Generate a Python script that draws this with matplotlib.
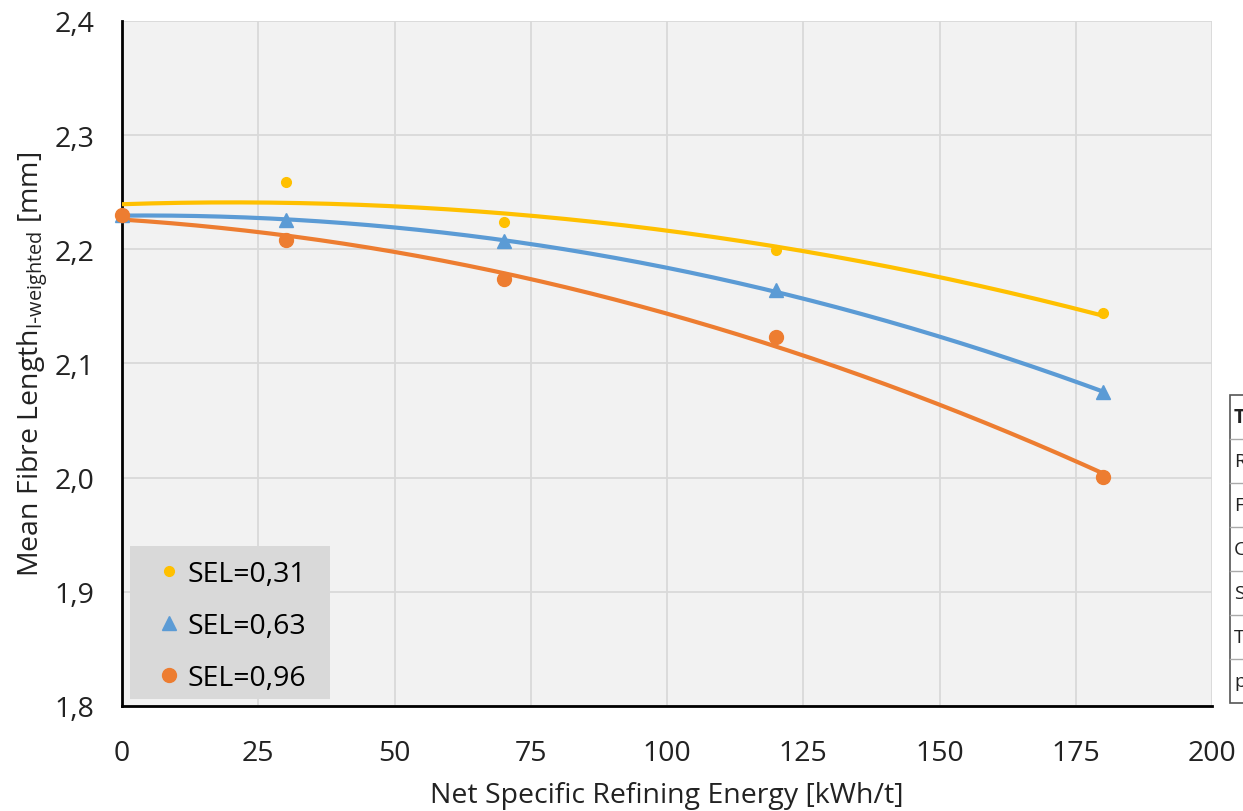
import numpy as np
import matplotlib
matplotlib.use("Agg")
import matplotlib.pyplot as plt
from matplotlib.lines import Line2D
from matplotlib.patches import Rectangle

plt.rcParams["font.family"] = ["Open Sans", "DejaVu Sans"]

# data
energy = [0, 30, 70, 120, 180]
sel_031 = [2.230, 2.259, 2.224, 2.199, 2.144]
sel_063 = [2.230, 2.226, 2.207, 2.164, 2.075]
sel_096 = [2.230, 2.208, 2.174, 2.123, 2.001]
labels = ["SEL=0,31", "SEL=0,63", "SEL=0,96"]
colors = ["#FFC000", "#5B9BD5", "#ED7D31"]
markers = ["o", "^", "o"]
sizes = [7, 10, 10]

x_ticks = [0, 25, 50, 75, 100, 125, 150, 175, 200]
y_ticks = [1.8, 1.9, 2.0, 2.1, 2.2, 2.3, 2.4]

FS = 20.5
W, H = 1243, 812
AX_L, AX_R, AX_T, AX_B = 122, 1212, 22, 707
fig = plt.figure(figsize=(W / 100, H / 100), dpi=100)
ax = fig.add_axes([AX_L / W, 1 - AX_B / H, (AX_R - AX_L) / W, (AX_B - AX_T) / H])
ax.set_facecolor("#f2f2f2")

xs = np.linspace(0, 180, 200)
handles = []
for ys, lab, c, m, s in zip([sel_031, sel_063, sel_096], labels, colors, markers, sizes):
    # 2nd order polynomial trend line as in the original
    coef = np.polyfit(energy, ys, 2)
    ax.plot(xs, np.polyval(coef, xs), color=c, linewidth=3, zorder=3)
    ax.plot(energy, ys, linestyle="none", marker=m, color=c, markersize=s,
            zorder=4, clip_on=False)
    handles.append(Line2D([], [], linestyle="none", marker=m, color=c,
                          markersize=s, label=lab))

ax.set_xlim(0, 200)
ax.set_ylim(1.8, 2.4)
ax.set_xticks(x_ticks)
ax.set_yticks(y_ticks)
ax.set_yticklabels([f"{v:.1f}".replace(".", ",") for v in y_ticks])
ax.tick_params(length=0, labelsize=FS, colors="#222222")
ax.tick_params(axis="y", pad=20)
ax.tick_params(axis="x", pad=24)
ax.grid(True, color="#d9d9d9", linewidth=1.3)
ax.set_axisbelow(True)
for side in ["top", "right"]:
    ax.spines[side].set_visible(False)
for side in ["left", "bottom"]:
    ax.spines[side].set_color("black")
    ax.spines[side].set_linewidth(2)

ax.set_xlabel("Net Specific Refining Energy [kWh/t]", fontsize=FS, color="#222222", labelpad=10)
ax.set_ylabel(r"Mean Fibre Length$_{\mathregular{l\text{-}weighted}}$ [mm]", fontsize=FS,
              color="#222222", labelpad=3)

# legend background box (wider side padding than matplotlib's frame allows)
axw, axh = AX_R - AX_L, AX_B - AX_T
ax.add_patch(Rectangle(((130 - AX_L) / axw, (AX_B - 700) / axh), 200 / axw, 153 / axh,
                       transform=ax.transAxes, facecolor="#d9d9d9", edgecolor="none",
                       zorder=5))
leg = ax.legend(handles=handles, loc="lower left",
                bbox_to_anchor=((146 - AX_L) / axw, (AX_B - 702) / axh),
                borderaxespad=0, fontsize=FS, frameon=False,
                handletextpad=0.17, handlelength=1.0, labelspacing=0.85, borderpad=0.3)
leg.set_zorder(6)

# partially visible table at the right edge
tx0 = 1230
rows_y = [396, 440, 484, 528, 572, 616, 660, 704]
row_txt = ["T", "R", "F", "C", "S", "T", "p"]
fig.add_artist(Rectangle((tx0 / W, 1 - rows_y[-1] / H), 40 / W,
                         (rows_y[-1] - rows_y[0]) / H, transform=fig.transFigure,
                         facecolor="white", edgecolor="#555555", linewidth=1.2))
for yy in rows_y[1:-1]:
    fig.add_artist(Line2D([tx0 / W, 1], [1 - yy / H, 1 - yy / H],
                          transform=fig.transFigure, color="#aaaaaa", linewidth=1))
for i, t in enumerate(row_txt):
    yc = (rows_y[i] + rows_y[i + 1]) / 2
    fig.text((tx0 + 4) / W, 1 - yc / H, t, fontsize=14, va="center", ha="left",
             fontweight="bold" if i == 0 else "normal", color="#222222")

fig.savefig("out.png", dpi=100)
